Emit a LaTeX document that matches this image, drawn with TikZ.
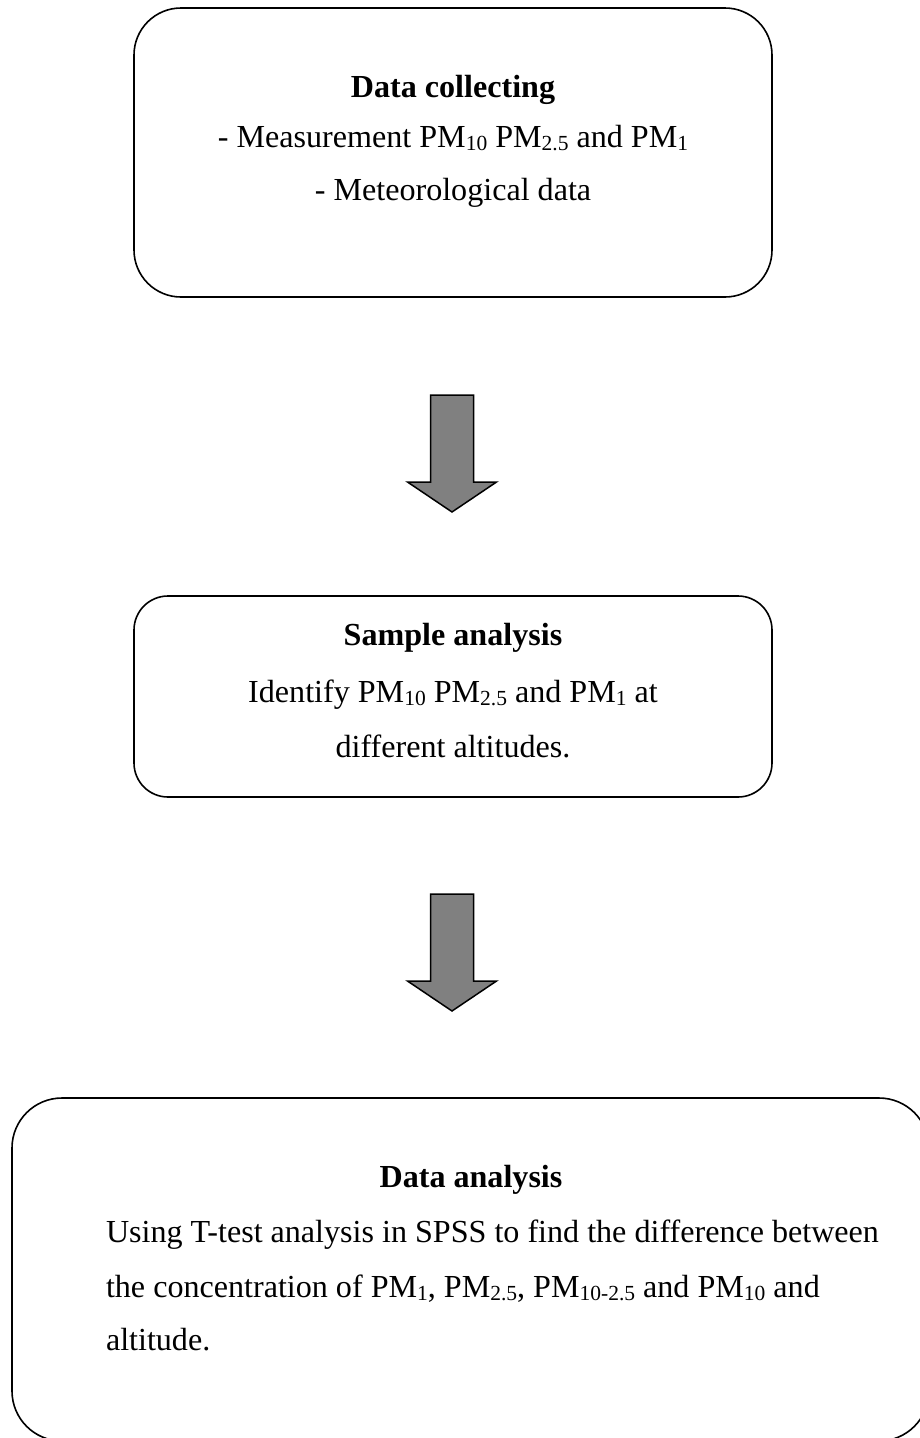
\documentclass[tikz,border=0pt]{standalone}
\usepackage{fontspec}
\setmainfont{Liberation Serif}
\newcommand{\sbs}[1]{\raisebox{-3pt}{\fontsize{21.5}{21.5}\selectfont #1}}
\begin{document}
\begin{tikzpicture}[x=1pt,y=-1pt,
  box/.style={draw=black, line width=1.6pt, inner sep=0pt, outer sep=0pt},
  txt/.style={inner sep=0pt, outer sep=0pt, font=\fontsize{32.1}{38}\selectfont},
  blk/.style={draw=black, line width=1.5pt, fill=arrowgray, line join=miter},
  blockarrow/.pic={
    \draw[blk] (-21.5,0) -- (21.5,0) -- (21.5,87) -- (44.5,87) -- (0,117)
      -- (-44.5,87) -- (-21.5,87) -- cycle;
  }]
\definecolor{arrowgray}{HTML}{808080}
\useasboundingbox (0,0) rectangle (920,1438);
\clip (0,0) rectangle (920,1438);

% boxes
\node[box, rounded corners=47pt, minimum width=638pt, minimum height=289pt] (b1) at (453,152.5) {};
\node[box, rounded corners=34pt, minimum width=638pt, minimum height=201pt] (b2) at (453,696.5) {};
\node[box, rounded corners=50pt, minimum width=917pt, minimum height=343pt] (b3) at (470.5,1269.5) {};

% box 1 text
\node[txt, anchor=base] (t1a) at (453,97) {\textbf{Data collecting}};
\node[txt, anchor=base] (t1b) at (453,147) {- Measurement PM\sbs{10} PM\sbs{2.5} and PM\sbs{1}};
\node[txt, anchor=base] (t1c) at (453,200) {- Meteorological data};

% box 2 text
\node[txt, anchor=base] (t2a) at (453,645) {\textbf{Sample analysis}};
\node[txt, anchor=base] (t2b) at (453,702) {Identify PM\sbs{10} PM\sbs{2.5} and PM\sbs{1} at};
\node[txt, anchor=base] (t2c) at (453,757) {different altitudes.};

% box 3 text
\node[txt, anchor=base] (t3a) at (471,1187) {\textbf{Data analysis}};
\node[txt, anchor=base west] (t3b) at (106,1242) {Using T-test analysis in SPSS to find the difference between};
\node[txt, anchor=base west] (t3c) at (106,1297) {the concentration of PM\sbs{1}, PM\sbs{2.5}, PM\sbs{10-2.5} and PM\sbs{10} and};
\node[txt, anchor=base west] (t3d) at (106,1350) {altitude.};

% block arrows
\pic at (452,395) {blockarrow};
\pic at (452,894) {blockarrow};
\end{tikzpicture}
\end{document}
